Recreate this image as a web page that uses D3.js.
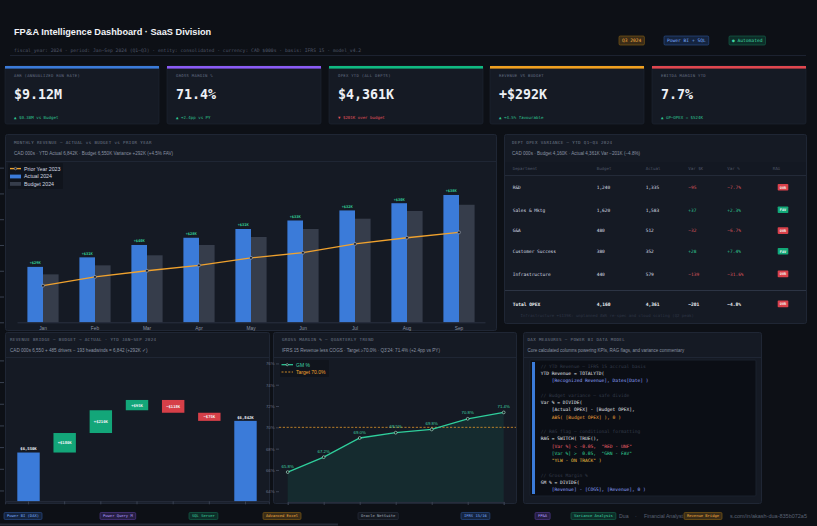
<!DOCTYPE html>
<html><head><meta charset="utf-8">
<script src="https://cdn.jsdelivr.net/npm/d3@7"></script>
<style>
html,body{margin:0;padding:0;background:#0d1016;overflow:hidden}
svg{display:block}
</style></head><body><svg id="c" width="817" height="526"></svg>
<script>
// ---------------- DATA ----------------
const kpiLabels = ["ARR (ANNUALIZED RUN RATE)","GROSS MARGIN %","OPEX YTD (ALL DEPTS)","REVENUE VS BUDGET","EBITDA MARGIN YTD"];
const kpiValues = ["$9.12M","71.4%","$4,361K","+$292K","7.7%"];
const kpiDeltas = ["▲ $0.38M vs Budget","▲ +2.4pp vs PY","▼ $201K over budget","▲ +4.5% favourable","▲ GP−OPEX = $524K"];
const kpiDeltaUp = [true,true,false,true,true];

const months = ["Jan","Feb","Mar","Apr","May","Jun","Jul","Aug","Sep"];
const actual2024 = [615,652,700,728,762,795,834,862,894];
const budget2024 = [586,621,660,700,731,762,802,832,856];
const prior2023  = [542,576,600,621,650,670,704,728,749];
const revTicks = [400,500,600,700,800,900,1000];

const depts = ["R&D","Sales & Mktg","G&A","Customer Success","Infrastructure"];
const deptBudget = [1240,1620,480,380,440];
const deptActual = [1335,1583,512,352,579];
const tableHeaders = ["Department","Budget","Actual","Var $K","Var %","RAG"];

const bridgeSteps = ["Budget","New Logos","Expansion","Pricing","Churn","FX Impact","Actual"];
const bridgeValues = [6550,180,210,95,-118,-75,6842];
const bridgeTicks = [6200,6400,6600,6800,7000,7200,7400];

const quarters = ["Q1'23","Q2'23","Q3'23","Q4'23","Q1'24","Q2'24","Q3'24"];
const gmPct = [65.8,67.2,69.0,69.5,69.8,70.8,71.4];
const gmTarget = 70.0;
const gmTicks = [64,66,68,70,72,74,76];

const daxLines = [
  ["c","// YTD Revenue — IFRS 15 accrual basis"],
  ["w","YTD Revenue = TOTALYTD("],
  ["b","    [Recognized Revenue], Dates[Date] )"],
  ["",""],
  ["c","// Budget variance — safe divide"],
  ["w","Var % = DIVIDE("],
  ["w","    [Actual OPEX] - [Budget OPEX],"],
  ["o","    ABS( [Budget OPEX] ), 0 )"],
  ["",""],
  ["c","// RAG flag — conditional formatting"],
  ["w","RAG = SWITCH( TRUE(),"],
  ["r","    [Var %] < -0.05,  \"RED - UNF\""],
  ["g","    [Var %] >  0.05,  \"GRN - FAV\""],
  ["y","    \"YLW - ON TRACK\" )"],
  ["",""],
  ["c","// Gross Margin %"],
  ["w","GM % = DIVIDE("],
  ["b","    [Revenue] - [COGS], [Revenue], 0 )"]
];

const footerTags = ["Power BI (DAX)","Power Query M","SQL Server","Advanced Excel","Oracle NetSuite","IFRS 15/16","FP&A","Variance Analysis"];
const footerKinds = ["blue","purple","green","orange","gray","blue","purple","green"];
const footerX = [4,100,189,263,358,461,535,571];

// ---------------- STYLE ----------------
const C = {bg:"#0d1016", panel:"#151a24", border:"#1f2634", text:"#e8ebf1", muted:"#5d6575", dim:"#8a93a3",
  blue:"#3b7bd9", budget:"#363d4b", orange:"#f0a22e", green:"#10b981", teal:"#2fcf9c", red:"#e0474f", purple:"#8b5cf6"};
const MONO = "'DejaVu Sans Mono', monospace";
const SANS = "'Liberation Sans', Arial, sans-serif";
const TAG = {
  blue:{fill:"rgba(59,130,246,0.18)",stroke:"#2c5394",text:"#79acff"},
  purple:{fill:"rgba(139,92,246,0.2)",stroke:"#553a96",text:"#b29cff"},
  green:{fill:"rgba(16,185,129,0.18)",stroke:"#16694f",text:"#3fd6a2"},
  orange:{fill:"rgba(245,165,36,0.2)",stroke:"#8a6214",text:"#f5b042"},
  gray:{fill:"rgba(120,130,150,0.08)",stroke:"#2a3140",text:"#a3acbb"}
};

const svg = d3.select("#c");
svg.append("rect").attr("width",817).attr("height",526).attr("fill",C.bg);

function T(g,x,y,s,o={}){
  const t=g.append("text").attr("x",x).attr("y",y).text(s)
    .attr("font-family",o.ff||MONO).attr("font-size",o.fs||5).attr("fill",o.fill||C.text);
  if(o.fw) t.attr("font-weight",o.fw);
  if(o.anchor) t.attr("text-anchor",o.anchor);
  if(o.ls) t.attr("letter-spacing",o.ls);
  return t;
}
function panel(x,y,w,h){
  svg.append("rect").attr("x",x+0.5).attr("y",y+0.5).attr("width",w).attr("height",h)
    .attr("rx",2).attr("fill",C.panel).attr("stroke",C.border);
}
function tag(g,x,y,h,label,kind,fs){
  const k=TAG[kind];
  const r=g.append("rect").attr("x",x).attr("y",y).attr("height",h).attr("rx",1.2)
    .attr("fill",k.fill).attr("stroke",k.stroke).attr("stroke-width",0.6);
  const t=T(g,x+3,y+h/2+fs*0.36,label,{fs:fs,fill:k.text});
  const w=t.node().getComputedTextLength()+6;
  r.attr("width",w);
  return w;
}

// ---------------- HEADER ----------------
T(svg,14,34.5,"FP&A Intelligence Dashboard · SaaS Division",{ff:SANS,fs:9.2,fw:"bold",fill:"#f1f3f7"});
T(svg,14,51.8,"fiscal_year: 2024  ·  period: Jan–Sep 2024 (Q1–Q3)  ·  entity: consolidated  ·  currency: CAD $000s  ·  basis: IFRS 15  ·  model_v4.2",{fs:4.7,fill:"#4d5566"});
(function(){
  const hb=svg.append("g");
  tag(hb.append("g"),619,36,9,"Q3 2024","orange",4.6);
  tag(hb.append("g"),664,36,9,"Power BI + SQL","blue",4.6);
  tag(hb.append("g"),729,36,9,"● Automated","green",4.6);
})();
svg.append("line").attr("x1",10).attr("x2",806).attr("y1",55.5).attr("y2",55.5).attr("stroke","#1c2230");

// ---------------- KPI CARDS ----------------
const kpiColors=[C.blue,C.purple,C.green,"#f0a020",C.red];
const kpiX=[5,167,329,490,652];
const kg=svg.selectAll("g.kpi").data(kpiLabels).join("g").attr("class","kpi")
  .attr("transform",(d,i)=>`translate(${kpiX[i]},66)`);
kg.append("rect").attr("width",154).attr("height",58).attr("rx",2).attr("fill",C.panel).attr("stroke",C.border).attr("stroke-width",0.6);
kg.append("rect").attr("width",154).attr("height",2.6).attr("fill",(d,i)=>kpiColors[i]);
kg.each(function(d,i){
  const g=d3.select(this);
  T(g,9,10.6,d,{fs:3.9,fill:"#667085",ls:0.3});
  T(g,9,33,kpiValues[i],{fs:13.3,fw:"bold",fill:"#eef1f6"});
  T(g,9,52.8,kpiDeltas[i],{fs:4.1,fill:kpiDeltaUp[i]?"#2fc592":"#e2535b"});
});

// ---------------- MONTHLY REVENUE ----------------
panel(5,134,491,196);
T(svg,14,144.3,"MONTHLY REVENUE — ACTUAL vs BUDGET vs PRIOR YEAR",{fs:4.2,fill:"#6f7888",ls:0.35});
T(svg,14,155.2,"CAD 000s · YTD Actual 6,842K  ·  Budget 6,550K  Variance +292K (+4.5% FAV)",{ff:SANS,fs:4.6,fill:"#8a93a3"});
svg.append("line").attr("x1",5.5).attr("x2",496).attr("y1",161.5).attr("y2",161.5).attr("stroke",C.border);

const xM=d3.scaleBand().domain(months).range([17,485]).paddingInner(0.4).paddingOuter(0.2);
const yM=d3.scaleLinear().domain([400,1020]).range([322.3,162.5]);
const bwM=xM.bandwidth()/2;
const mg=svg.append("g");
mg.append("g").attr("transform","translate(4,0)")
  .call(d3.axisLeft(yM).tickValues(revTicks).tickSize(4).tickFormat(""))
  .call(g=>{g.select(".domain").remove();g.selectAll("line").attr("stroke","#3a4252");});
mg.selectAll("rect.act").data(months).join("rect").attr("class","act")
  .attr("x",d=>xM(d)).attr("width",bwM)
  .attr("y",(d,i)=>yM(actual2024[i])).attr("height",(d,i)=>yM(400)-yM(actual2024[i])).attr("fill",C.blue);
mg.selectAll("rect.bud").data(months).join("rect").attr("class","bud")
  .attr("x",d=>xM(d)+bwM).attr("width",bwM)
  .attr("y",(d,i)=>yM(budget2024[i])).attr("height",(d,i)=>yM(400)-yM(budget2024[i])).attr("fill",C.budget);
mg.selectAll("text.var").data(months).join("text").attr("class","var")
  .attr("x",d=>xM(d)+bwM/2).attr("y",(d,i)=>yM(actual2024[i])-2.6).attr("text-anchor","middle")
  .attr("font-family",MONO).attr("font-size",3.7).attr("font-weight","bold").attr("fill","#34d39a")
  .text((d,i)=>"+$"+(actual2024[i]-budget2024[i])+"K");
mg.append("g").attr("transform","translate(0,322.3)")
  .call(d3.axisBottom(xM).tickSize(0).tickPadding(4))
  .call(g=>{g.select(".domain").attr("stroke","#2a3140");g.selectAll("text").attr("fill",C.dim).attr("font-size",4.8).attr("font-family",SANS);});
const pyLine=d3.line().x((d,i)=>xM(months[i])+xM.bandwidth()/2).y(d=>yM(d));
mg.append("path").datum(prior2023).attr("d",pyLine).attr("fill","none").attr("stroke",C.orange).attr("stroke-width",1.3);
mg.selectAll("circle.py").data(prior2023).join("circle").attr("class","py")
  .attr("cx",(d,i)=>xM(months[i])+xM.bandwidth()/2).attr("cy",d=>yM(d)).attr("r",1.5)
  .attr("fill","#1a1f2b").attr("stroke","#a8b0bd").attr("stroke-width",0.6);
const lg=svg.append("g");
lg.append("rect").attr("x",8).attr("y",163).attr("width",55).attr("height",26).attr("rx",1).attr("fill","#10141c").attr("opacity",0.9);
lg.append("line").attr("x1",10).attr("x2",21).attr("y1",168.6).attr("y2",168.6).attr("stroke",C.orange).attr("stroke-width",1.4);
lg.append("circle").attr("cx",15.5).attr("cy",168.6).attr("r",1.2).attr("fill","#1a1f2b").attr("stroke","#a8b0bd").attr("stroke-width",0.5);
lg.append("rect").attr("x",10).attr("y",174.6).attr("width",11).attr("height",3.8).attr("fill",C.blue);
lg.append("rect").attr("x",10).attr("y",182).attr("width",11).attr("height",3.8).attr("fill",C.budget);
T(lg,24,170.5,"Prior Year 2023",{ff:SANS,fs:5.3,fill:"#d3d8e0"});
T(lg,24,178.2,"Actual 2024",{ff:SANS,fs:5.3,fill:"#d3d8e0"});
T(lg,24,185.6,"Budget 2024",{ff:SANS,fs:5.3,fill:"#d3d8e0"});

// ---------------- OPEX TABLE ----------------
panel(504,134,302,189);
T(svg,512,144.3,"DEPT OPEX VARIANCE — YTD Q1–Q3 2024",{fs:4.2,fill:"#6f7888",ls:0.35});
T(svg,512,155.2,"CAD 000s · Budget 4,160K  ·  Actual 4,361K  Var −201K (−4.8%)",{ff:SANS,fs:4.6,fill:"#8a93a3"});
svg.append("rect").attr("x",505).attr("y",162).attr("width",301).attr("height",13).attr("fill","#131822");
svg.append("line").attr("x1",505).attr("x2",806).attr("y1",175.5).attr("y2",175.5).attr("stroke","#232a38");
const colX=[512.7,596.7,645.7,688.3,727.3,772.7];
tableHeaders.forEach((h,i)=>T(svg,colX[i],170.4,h,{fs:4.1,fill:"#4f5767"}));
const rowY=[189,211.5,232.3,253,275.6];
const fmt=d3.format(",");
const signed=v=>(v>0?"+":v<0?"−":"")+fmt(Math.abs(v));
const signedPct=v=>(v>0?"+":v<0?"−":"")+Math.abs(v).toFixed(1)+"%";
function rag(g,cx,cy,fav){
  g.append("rect").attr("x",cx-5.3).attr("y",cy-3.4).attr("width",10.6).attr("height",6.6).attr("rx",0.8)
    .attr("fill",fav?"#12a877":"#d9414a");
  T(g,cx,cy+1.3,fav?"FAV":"OVR",{fs:3.5,fw:"bold",fill:"#f3f5f8",anchor:"middle"});
}
depts.forEach((d,i)=>{
  const v=deptBudget[i]-deptActual[i], p=v/deptBudget[i]*100;
  const col=v>=0?"#2fc592":"#d8545b";
  T(svg,colX[0],rowY[i],d,{fs:4.5,fill:"#d6dbe3"});
  T(svg,colX[1],rowY[i],fmt(deptBudget[i]),{fs:4.5,fill:"#d6dbe3"});
  T(svg,colX[2],rowY[i],fmt(deptActual[i]),{fs:4.5,fill:"#d6dbe3"});
  T(svg,colX[3],rowY[i],signed(v),{fs:4.5,fill:col});
  T(svg,colX[4],rowY[i],signedPct(p),{fs:4.5,fill:col});
  rag(svg,783,rowY[i]-1.6,v>=0);
});
svg.append("line").attr("x1",505).attr("x2",806).attr("y1",290.5).attr("y2",290.5).attr("stroke","#2c3444");
const tb=d3.sum(deptBudget), ta=d3.sum(deptActual), tv=tb-ta;
T(svg,colX[0],305.6,"Total OPEX",{fs:4.6,fw:"bold",fill:"#eef1f6"});
T(svg,colX[1],305.6,fmt(tb),{fs:4.6,fw:"bold",fill:"#eef1f6"});
T(svg,colX[2],305.6,fmt(ta),{fs:4.6,fw:"bold",fill:"#eef1f6"});
T(svg,colX[3],305.6,signed(tv),{fs:4.6,fw:"bold",fill:"#eef1f6"});
T(svg,colX[4],305.6,signedPct(tv/tb*100),{fs:4.6,fw:"bold",fill:"#eef1f6"});
rag(svg,783,304,tv>=0);
T(svg,520.5,316.6,"Infrastructure +$139K: unplanned AWS re-spec and cloud scaling (Q2 peak)",{fs:4,fill:"#2f3646"});

// ---------------- REVENUE BRIDGE ----------------
panel(5,332,264,171);
T(svg,10,341,"REVENUE BRIDGE — BUDGET → ACTUAL   ·   YTD JAN–SEP 2024",{fs:4.2,fill:"#6f7888",ls:0.35});
T(svg,10,351.8,"CAD 000s  6,550 + 485 drivers − 193 headwinds = 6,842 (+292K ✓)",{ff:SANS,fs:4.6,fill:"#8a93a3"});
svg.append("line").attr("x1",5.5).attr("x2",269).attr("y1",357.5).attr("y2",357.5).attr("stroke",C.border);
const xB=d3.scaleBand().domain(bridgeSteps).range([5,269]).paddingInner(0.38).paddingOuter(0.34);
const yB=d3.scaleLinear().domain([6100,7400]).range([501.3,360.4]);
const bg=svg.append("g");
bg.append("g").attr("transform","translate(4,0)")
  .call(d3.axisLeft(yB).tickValues(bridgeTicks).tickSize(4).tickFormat(""))
  .call(g=>{g.select(".domain").remove();g.selectAll("line").attr("stroke","#3a4252");});
let run=0;
const bridgeBars=bridgeValues.map((v,i)=>{
  if(i===0){run=v;return {k:bridgeSteps[i],y0:yB.domain()[0],y1:v,type:"total",v};}
  if(i===bridgeValues.length-1){return {k:bridgeSteps[i],y0:yB.domain()[0],y1:v,type:"total",v};}
  const s=run; run+=v; return {k:bridgeSteps[i],y0:s,y1:run,type:v>=0?"up":"down",v};
});
bg.selectAll("rect.br").data(bridgeBars).join("rect").attr("class","br")
  .attr("x",d=>xB(d.k)).attr("width",xB.bandwidth())
  .attr("y",d=>yB(Math.max(d.y0,d.y1))).attr("height",d=>Math.abs(yB(d.y0)-yB(d.y1)))
  .attr("fill",d=>d.type==="total"?C.blue:d.type==="up"?"#13a679":"#d63f48");
bg.selectAll("text.bl").data(bridgeBars).join("text").attr("class","bl")
  .attr("x",d=>xB(d.k)+xB.bandwidth()/2)
  .attr("y",d=>d.type==="total"?yB(d.y1)-2.2:(yB(d.y0)+yB(d.y1))/2+1.4)
  .attr("text-anchor","middle").attr("font-family",MONO).attr("font-size",3.9).attr("font-weight","bold").attr("fill","#f2f4f8")
  .text(d=>d.type==="total"?"$"+fmt(d.v)+"K":(d.v>0?"+$":"−$")+Math.abs(d.v)+"K");
bg.append("g").attr("transform","translate(0,501.3)")
  .call(d3.axisBottom(xB).tickSize(3).tickFormat(""))
  .call(g=>{g.select(".domain").attr("stroke","#2a3140");g.selectAll("line").attr("stroke","#3a4252");});

// ---------------- GROSS MARGIN ----------------
panel(273,332,243,171);
T(svg,282,341,"GROSS MARGIN % — QUARTERLY TREND",{fs:4.2,fill:"#6f7888",ls:0.35});
T(svg,282,351.8,"IFRS 15 Revenue less COGS  ·  Target ≥70.0%  ·  Q3'24: 71.4% (+2.4pp vs PY)",{ff:SANS,fs:4.6,fill:"#8a93a3"});
svg.append("line").attr("x1",273.5).attr("x2",516).attr("y1",357.5).attr("y2",357.5).attr("stroke",C.border);
const xG=d3.scalePoint().domain(quarters).range([287.7,503.7]);
const yG=d3.scaleLinear().domain([63,76.5]).range([501.9,358.1]);
const gg=svg.append("g");
gg.append("g").attr("transform","translate(279,0)")
  .call(d3.axisLeft(yG).tickValues(gmTicks).tickSize(3).tickPadding(1.5).tickFormat(d=>d+"%"))
  .call(g=>{g.select(".domain").remove();g.selectAll("line").attr("stroke","#3a4252");g.selectAll("text").attr("fill","#6b7385").attr("font-size",4.3).attr("font-family",SANS);});
const area=d3.area().x((d,i)=>xG(quarters[i])).y0(yG(63)).y1(d=>yG(d));
gg.append("path").datum(gmPct).attr("d",area).attr("fill","rgba(22,170,130,0.12)");
gg.append("line").attr("x1",279).attr("x2",516).attr("y1",yG(gmTarget)).attr("y2",yG(gmTarget))
  .attr("stroke","#e0952a").attr("stroke-width",0.8).attr("stroke-dasharray","2.2,1.6");
const gl=d3.line().x((d,i)=>xG(quarters[i])).y(d=>yG(d));
gg.append("path").datum(gmPct).attr("d",gl).attr("fill","none").attr("stroke",C.teal).attr("stroke-width",1.3);
gg.selectAll("circle.gm").data(gmPct).join("circle").attr("class","gm")
  .attr("cx",(d,i)=>xG(quarters[i])).attr("cy",d=>yG(d)).attr("r",1.4)
  .attr("fill","#0f1a1a").attr("stroke","#b9f1dc").attr("stroke-width",0.6);
gg.selectAll("text.gml").data(gmPct).join("text").attr("class","gml")
  .attr("x",(d,i)=>xG(quarters[i])).attr("y",d=>yG(d)-4.4).attr("text-anchor","middle")
  .attr("font-family",SANS).attr("font-size",4.3).attr("fill","#3fd6a8").text(d=>d.toFixed(1)+"%");
gg.append("g").attr("transform","translate(0,501.9)")
  .call(d3.axisBottom(xG).tickSize(3).tickFormat(""))
  .call(g=>{g.select(".domain").attr("stroke","#2a3140");g.selectAll("line").attr("stroke","#3a4252");});
const gle=svg.append("g");
gle.append("rect").attr("x",280).attr("y",360).attr("width",49).attr("height",17).attr("rx",1).attr("fill","#10141c").attr("opacity",0.9);
gle.append("line").attr("x1",281.5).attr("x2",293).attr("y1",364.7).attr("y2",364.7).attr("stroke",C.teal).attr("stroke-width",1.2);
gle.append("circle").attr("cx",287.2).attr("cy",364.7).attr("r",1.1).attr("fill","#0f1a1a").attr("stroke","#b9f1dc").attr("stroke-width",0.5);
gle.append("line").attr("x1",281.5).attr("x2",293).attr("y1",372).attr("y2",372).attr("stroke","#e0952a").attr("stroke-width",0.9).attr("stroke-dasharray","2,1.4");
T(gle,296,366.5,"GM %",{ff:SANS,fs:5,fill:"#3fd6a8"});
T(gle,296,373.8,"Target 70.0%",{ff:SANS,fs:5,fill:"#f0a22e"});

// ---------------- DAX ----------------
panel(523,332,238,171);
T(svg,527.5,341,"DAX MEASURES — POWER BI DATA MODEL",{fs:4.2,fill:"#6f7888",ls:0.35});
T(svg,527.5,351.6,"Core calculated columns powering KPIs, RAG flags, and variance commentary",{ff:SANS,fs:4.5,fill:"#8a93a3"});
svg.append("line").attr("x1",523.5).attr("x2",761).attr("y1",357.5).attr("y2",357.5).attr("stroke",C.border);
svg.append("rect").attr("x",530).attr("y",360).attr("width",226).attr("height",136).attr("rx",1).attr("fill","#0b0e15").attr("stroke","#1b212d");
svg.append("rect").attr("x",532).attr("y",362).attr("width",3).attr("height",132).attr("fill",C.blue);
const codeCol={c:"#353c4b",w:"#e4e7ec",b:"#8ea2ff",o:"#f2a33a",r:"#f0616d",g:"#34d399",y:"#f5c542"};
const yCode=d3.scaleLinear().domain([0,daxLines.length-1]).range([367.9,491.3]);
svg.selectAll("text.dax").data(daxLines).join("text").attr("class","dax")
  .attr("x",540.7).attr("y",(d,i)=>yCode(i)).attr("font-family",MONO).attr("font-size",4.6)
  .attr("fill",d=>codeCol[d[0]]||"#fff").attr("xml:space","preserve").style("white-space","pre").text(d=>d[1]);

// ---------------- FOOTER ----------------
const fg=svg.append("g");
footerTags.forEach((t,i)=>tag(fg,footerX[i],512.5,7,t,footerKinds[i],3.8));
T(fg,619,518,"Dua",{ff:SANS,fs:5.2,fill:"#5a6273"});
T(fg,635,518,"·",{ff:SANS,fs:5.2,fill:"#5a6273"});
T(fg,644,518,"Financial Analyst",{ff:SANS,fs:5.2,fill:"#5a6273"});
tag(fg,684,512.5,7,"Revenue Bridge","orange",3.8);
T(fg,807,518,"s.com/in/akash-dua-835b072a5",{ff:SANS,fs:5.5,fill:"#5a6273",anchor:"end"});
svg.append("rect").attr("x",0).attr("y",523.5).attr("width",338).attr("height",2).attr("fill","#252b37");
</script></body></html>
